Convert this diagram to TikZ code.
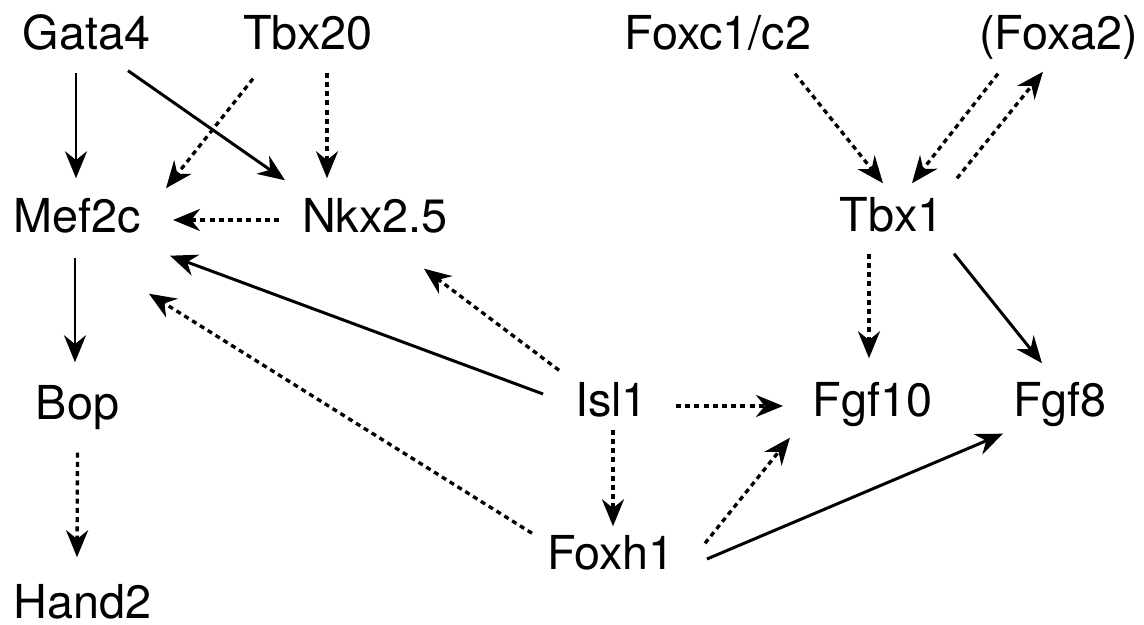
\documentclass[tikz,border=0pt]{standalone}
\usepackage{fontspec}
\setmainfont{TeX Gyre Heros}
\usetikzlibrary{arrows.meta}

\tikzset{
  gene/.style={font=\fontsize{13.3}{16}\selectfont, inner sep=0pt, anchor=base,
    text height=0.34cm, text depth=0pt},
  act/.style={-{Stealth[length=0.27cm,width=0.22cm]}, line width=0.85pt},
  weak/.style={act, line width=0.95pt, dash pattern=on 0.05cm off 0.042cm},
}

\begin{document}
\begin{tikzpicture}[x=0.01cm, y=-0.01cm]
  \useasboundingbox (0,0) rectangle (1144,625);

  % genes
  \node[gene] (gata)  at (86.5,50)   {Gata4};
  \node[gene] (tbxtw) at (308,50)    {Tbx20};
  \node[gene] (foxc)  at (718,50)    {Foxc1/c2};
  \node[gene] (foxa)  at (1058.5,50) {(Foxa2)};
  \node[gene] (mef)   at (77.5,233)  {Mef2c};
  \node[gene] (nkx)   at (375,233)   {Nkx2.5};
  \node[gene] (tbxone) at (891.5,232) {Tbx1};
  \node[gene] (bop)   at (77.5,420)  {Bop};
  \node[gene] (isl)   at (611.5,417) {Isl1};
  \node[gene] (fgften) at (872.5,417) {Fgf10};
  \node[gene] (fgfeight) at (1060,417) {Fgf8};
  \node[gene] (foxh)  at (611,570)   {Foxh1};
  \node[gene] (hand)  at (82.5,619)  {Hand2};

  % left part
  \draw[act]  ([shift={(-10.5,22)}]gata.south) -- ([shift={(-1.5,-20)}]mef.north);
  \draw[act]  ([shift={(41.5,20)}]gata.south) -- ([shift={(-90,-18)}]nkx.north);
  \draw[weak] ([shift={(-55,28)}]tbxtw.south) -- ([shift={(88.5,-10)}]mef.north);
  \draw[weak] ([shift={(19,22)}]tbxtw.south) -- ([shift={(-48,-20)}]nkx.north);
  \draw[weak] ([shift={(-96,-13)}]nkx.base) -- ([shift={(95.5,-13)}]mef.base);
  \draw[act]  ([shift={(-2.5,24)}]mef.south) -- ([shift={(-2.5,-23)}]bop.north);
  \draw[weak] ([shift={(0,32)}]bop.south) -- ([shift={(-5.5,-27)}]hand.north);

  % Isl1 and Foxh1
  \draw[act]  ([shift={(-68.5,-23)}]isl.base) -- ([shift={(92.5,22)}]mef.south);
  \draw[weak] ([shift={(-52.5,-12)}]isl.north) -- ([shift={(49,35)}]nkx.south);
  \draw[weak] ([shift={(-79,-2)}]foxh.north) -- ([shift={(71.5,60)}]mef.south);
  \draw[weak] ([shift={(64.5,-11)}]isl.base) -- ([shift={(-89.5,-11)}]fgften.base);
  \draw[weak] ([shift={(1.5,12)}]isl.south) -- ([shift={(2,-9)}]foxh.north);
  \draw[weak] ([shift={(94,8)}]foxh.north) -- ([shift={(-82.5,20)}]fgften.south);
  \draw[act]  ([shift={(96,-11)}]foxh.base) -- ([shift={(-57,16)}]fgfeight.south);

  % right part
  \draw[weak] ([shift={(77,23)}]foxc.south) -- ([shift={(-8.5,-14)}]tbxone.north);
  \draw[weak] ([shift={(-60.5,23)}]foxa.south) -- ([shift={(20.5,-14)}]tbxone.north);
  \draw[weak] ([shift={(65.5,-19)}]tbxone.north) -- ([shift={(-15.5,21)}]foxa.south);
  \draw[weak] ([shift={(-22.5,21)}]tbxone.south) -- ([shift={(-3.5,-24)}]fgften.north);
  \draw[act]  ([shift={(62.5,21)}]tbxone.south) -- ([shift={(-18,-19)}]fgfeight.north);
\end{tikzpicture}
\end{document}
